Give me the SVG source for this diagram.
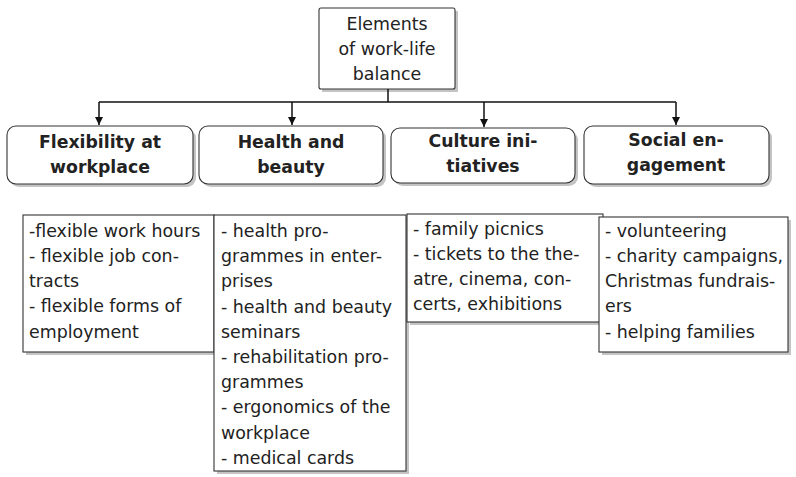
<svg xmlns="http://www.w3.org/2000/svg" width="796" height="477" viewBox="0 0 796 477">
<defs>
<style>
.bx{fill:#fff;stroke:#333;stroke-width:1.1}
.sh{fill:#c4c4c4}
.t{font-family:"DejaVu Sans","Liberation Sans",sans-serif;font-size:17.4px;fill:#222}
.h{font-family:"DejaVu Sans","Liberation Sans",sans-serif;font-size:17.3px;font-weight:bold;fill:#222;text-anchor:middle}
.c{text-anchor:middle}
.ln{stroke:#111;stroke-width:1.5;fill:none}
</style>
<marker id="ar" viewBox="0 0 10 10" refX="10" refY="5" markerWidth="8" markerHeight="8" markerUnits="userSpaceOnUse" orient="auto">
<path d="M0,0 L10,5 L0,10 z" fill="#111"/>
</marker>
</defs>
<rect width="796" height="477" fill="#fff"/>

<g id="root">
<rect class="sh" x="322" y="11" width="136" height="81"/>
<rect class="bx" x="319" y="8" width="136" height="81" rx="2"/>
<text class="t c" x="387" y="30">Elements</text>
<text class="t c" x="387" y="55">of work-life</text>
<text class="t c" x="387" y="80">balance</text>
</g>

<g id="connectors">
<path class="ln" d="M388,89 V102"/>
<path class="ln" d="M99,102 H676"/>
<path class="ln" d="M99,102 V125" marker-end="url(#ar)"/>
<path class="ln" d="M292,102 V125" marker-end="url(#ar)"/>
<path class="ln" d="M484,102 V127" marker-end="url(#ar)"/>
<path class="ln" d="M676,102 V125" marker-end="url(#ar)"/>
</g>

<g id="cat1">
<rect class="sh" x="10" y="129" width="186" height="58" rx="9"/>
<rect class="bx" x="7" y="126" width="186" height="58" rx="9"/>
<text class="h" x="100" y="148">Flexibility at</text>
<text class="h" x="100" y="173">workplace</text>
</g>
<g id="cat2">
<rect class="sh" x="202" y="129" width="184" height="58" rx="9"/>
<rect class="bx" x="199" y="126" width="184" height="58" rx="9"/>
<text class="h" x="291" y="148">Health and</text>
<text class="h" x="291" y="173">beauty</text>
</g>
<g id="cat3">
<rect class="sh" x="394" y="131" width="184" height="55" rx="9"/>
<rect class="bx" x="391" y="128" width="184" height="55" rx="9"/>
<text class="h" x="483" y="147">Culture ini-</text>
<text class="h" x="483" y="172">tiatives</text>
</g>
<g id="cat4">
<rect class="sh" x="587" y="129" width="185" height="58" rx="9"/>
<rect class="bx" x="584" y="126" width="185" height="58" rx="9"/>
<text class="h" x="676" y="146">Social en-</text>
<text class="h" x="676" y="171">gagement</text>
</g>

<g id="list1">
<rect class="sh" x="26" y="218" width="191" height="137"/>
<rect class="bx" x="23" y="215" width="191" height="137"/>
<text class="t" x="29" y="237">-flexible work hours</text>
<text class="t" x="29" y="262">- flexible job con-</text>
<text class="t" x="29" y="287">tracts</text>
<text class="t" x="29" y="312">- flexible forms of</text>
<text class="t" x="29" y="338">employment</text>
</g>
<g id="list2">
<rect class="sh" x="217" y="218" width="192" height="256"/>
<rect class="bx" x="214" y="215" width="192" height="256"/>
<text class="t" x="221" y="237">- health pro-</text>
<text class="t" x="221" y="262">grammes in enter-</text>
<text class="t" x="221" y="287">prises</text>
<text class="t" x="221" y="313">- health and beauty</text>
<text class="t" x="221" y="338">seminars</text>
<text class="t" x="221" y="363">- rehabilitation pro-</text>
<text class="t" x="221" y="388">grammes</text>
<text class="t" x="221" y="413">- ergonomics of the</text>
<text class="t" x="221" y="439">workplace</text>
<text class="t" x="221" y="464">- medical cards</text>
</g>
<g id="list3">
<rect class="sh" x="410" y="217" width="196" height="108"/>
<rect class="bx" x="407" y="214" width="196" height="108"/>
<text class="t" x="413" y="235">- family picnics</text>
<text class="t" x="413" y="260">- tickets to the the-</text>
<text class="t" x="413" y="285">atre, cinema, con-</text>
<text class="t" x="413" y="310">certs, exhibitions</text>
</g>
<g id="list4">
<rect class="sh" x="602" y="220" width="189" height="135"/>
<rect class="bx" x="599" y="217" width="189" height="135"/>
<text class="t" x="605" y="237">- volunteering</text>
<text class="t" x="605" y="262">- charity campaigns,</text>
<text class="t" x="605" y="287">Christmas fundrais-</text>
<text class="t" x="605" y="312">ers</text>
<text class="t" x="605" y="338">- helping families</text>
</g>
</svg>
